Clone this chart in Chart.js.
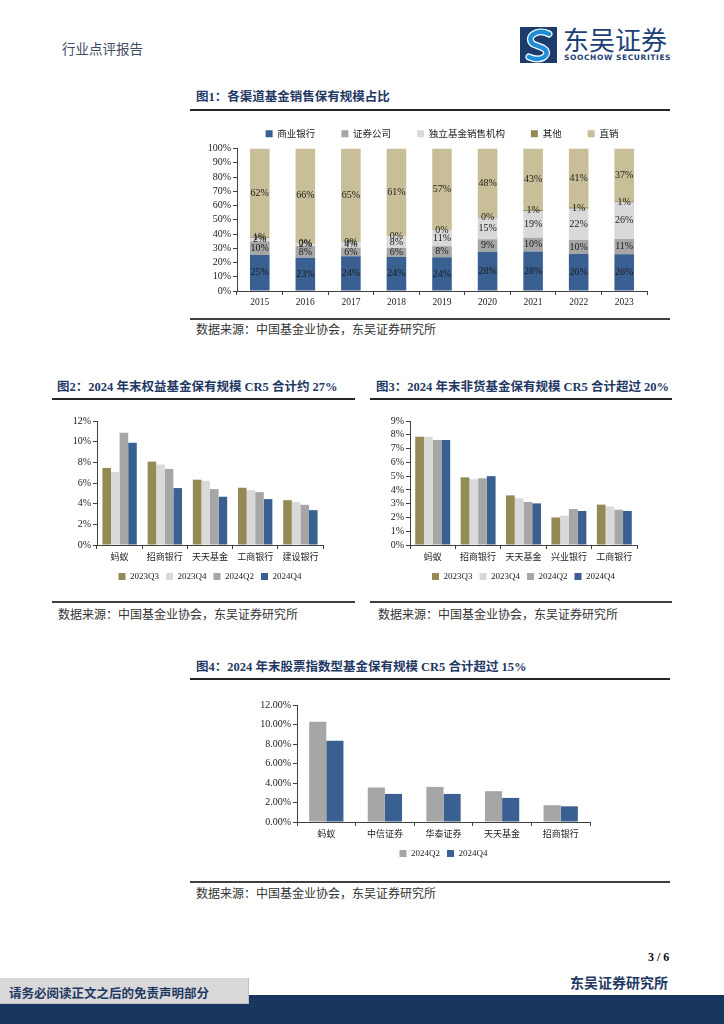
<!DOCTYPE html>
<html>
<head>
<meta charset="utf-8">
<script src="https://cdn.jsdelivr.net/npm/chart.js@4.4.1/dist/chart.umd.min.js"></script>
<style>
body{margin:0;width:724px;height:1024px;position:relative;overflow:hidden;background:#fff;font-family:"Liberation Serif","Noto Sans CJK SC",serif;}
.ttl{position:absolute;font:bold 12.5px "Liberation Serif","Noto Sans CJK SC";color:#1f3864;white-space:nowrap;line-height:14px;}
.rule{position:absolute;height:2px;background:#262626;}
.rule2{position:absolute;height:1px;background:#404040;}
.src{position:absolute;font:12px "Noto Sans CJK SC";color:#333;white-space:nowrap;line-height:14px;}
canvas{position:absolute;}
</style>
</head>
<body>

<!-- header -->
<div style="position:absolute;left:62px;top:38px;font:13.5px 'Noto Sans CJK SC';color:#3d4b63;">行业点评报告</div>
<svg style="position:absolute;left:520px;top:27px" width="40" height="36" viewBox="0 0 40 36">
  <rect x="0" y="0" width="37" height="36" fill="#1d3c6e"/>
  <path d="M29 7 C17 1, 5 10, 13 17 L23 21 C32 26, 23 36, 9 30" fill="none" stroke="#ffffff" stroke-width="7" stroke-linecap="round"/>
  <path d="M29 7 C17 1, 5 10, 13 17 L23 21 C32 26, 23 36, 9 30" fill="none" stroke="#1e8fd6" stroke-width="4.5" stroke-linecap="round"/>
</svg>
<div style="position:absolute;left:563px;top:24px;font:26px 'Noto Sans CJK SC';color:#1c3f75;line-height:30px;">东吴证券</div>
<div style="position:absolute;left:564px;top:53px;font:bold 7.5px 'DejaVu Sans';color:#1c3f75;letter-spacing:0.6px;">SOOCHOW SECURITIES</div>

<!-- 图1 -->
<div class="ttl" style="left:196px;top:90px;">图1：各渠道基金销售保有规模占比</div>
<div class="rule" style="left:190px;top:109px;width:480px;"></div>
<canvas id="c1" width="480" height="211" style="left:190px;top:103px;"></canvas>
<div class="rule2" style="left:190px;top:318px;width:480px;height:1.5px;"></div>
<div class="src" style="left:196px;top:322px;">数据来源：中国基金业协会，东吴证券研究所</div>

<!-- 图2 -->
<div class="ttl" style="left:57px;top:380px;">图2：2024 年末权益基金保有规模 CR5 合计约 27%</div>
<div class="rule" style="left:52px;top:398px;width:303px;"></div>
<canvas id="c2" width="303" height="190" style="left:52px;top:405px;"></canvas>
<div class="rule2" style="left:52px;top:601px;width:303px;height:1.5px;"></div>
<div class="src" style="left:58px;top:607px;">数据来源：中国基金业协会，东吴证券研究所</div>

<!-- 图3 -->
<div class="ttl" style="left:376px;top:380px;">图3：2024 年末非货基金保有规模 CR5 合计超过 20%</div>
<div class="rule" style="left:370px;top:398px;width:302px;"></div>
<canvas id="c3" width="302" height="190" style="left:370px;top:405px;"></canvas>
<div class="rule2" style="left:370px;top:601px;width:302px;height:1.5px;"></div>
<div class="src" style="left:378px;top:607px;">数据来源：中国基金业协会，东吴证券研究所</div>

<!-- 图4 -->
<div class="ttl" style="left:196px;top:660px;">图4：2024 年末股票指数型基金保有规模 CR5 合计超过 15%</div>
<div class="rule" style="left:190px;top:678px;width:480px;"></div>
<canvas id="c4" width="480" height="183" style="left:190px;top:689px;"></canvas>
<div class="rule2" style="left:190px;top:881px;width:480px;height:1.5px;"></div>
<div class="src" style="left:196px;top:886px;">数据来源：中国基金业协会，东吴证券研究所</div>

<!-- footer -->
<div style="position:absolute;left:648px;top:950px;font:bold 12px 'Liberation Serif';color:#111;">3 / 6</div>
<div style="position:absolute;left:570px;top:972px;font:bold 14px 'Noto Sans CJK SC';color:#1f3864;">东吴证券研究所</div>
<div style="position:absolute;left:0;top:995px;width:724px;height:29px;background:#17375e;"></div>
<div style="position:absolute;left:0;top:978px;width:248px;height:25px;background:#d9d9d9;border-right:1px solid #bfbfbf;border-bottom:1px solid #bfbfbf;"></div>
<div style="position:absolute;left:9px;top:983px;font:bold 12.5px 'Noto Sans CJK SC';color:#1f3864;">请务必阅读正文之后的免责声明部分</div>

<script>
// 图1 data (%)
const years = ['2015', '2016', '2017', '2018', '2019', '2020', '2021', '2022', '2023'];
const chBank = [25.2, 23.4, 24.3, 23.8, 23.6, 27.6, 27.8, 26.0, 25.8];
const chSec = [9.6, 8.1, 6.2, 6.3, 7.8, 8.8, 9.6, 9.8, 10.7];
const chIndep = [2.3, 1.9, 3.8, 8.3, 11.0, 14.8, 18.8, 22.0, 25.6];
const chOther = [0.6, 0.2, 0.3, 0.3, 0.3, 0.4, 0.8, 0.9, 0.8];
const chDirect = [62.3, 66.4, 65.4, 61.3, 57.3, 48.4, 43.0, 41.3, 37.1];

// 图2 data (%)
const eqCats = ['蚂蚁', '招商银行', '天天基金', '工商银行', '建设银行'];
const eq23Q3 = [7.46, 8.07, 6.32, 5.54, 4.34];
const eq23Q4 = [7.07, 7.78, 6.22, 5.32, 4.15];
const eq24Q2 = [10.86, 7.36, 5.41, 5.12, 3.89];
const eq24Q4 = [9.89, 5.51, 4.67, 4.44, 3.37];

// 图3 data (%)
const nmCats = ['蚂蚁', '招商银行', '天天基金', '兴业银行', '工商银行'];
const nm23Q3 = [7.86, 4.91, 3.60, 2.00, 2.93];
const nm23Q4 = [7.86, 4.77, 3.39, 2.13, 2.80];
const nm24Q2 = [7.62, 4.84, 3.12, 2.61, 2.56];
const nm24Q4 = [7.62, 5.00, 3.02, 2.47, 2.47];

// 图4 data (%)
const idxCats = ['蚂蚁', '中信证券', '华泰证券', '天天基金', '招商银行'];
const idx24Q2 = [10.29, 3.54, 3.60, 3.16, 1.72];
const idx24Q4 = [8.33, 2.88, 2.88, 2.47, 1.61];

const BLUE = '#3a6092', GRAY = '#a6a6a6', LIGHT = '#d9d9d9', OLIVE = '#948a56', TAN = '#c8bf98';
const AXIS = '#404040';

Chart.defaults.font.family = '"Liberation Serif", "Noto Sans CJK SC", serif';
Chart.defaults.color = '#1a1a1a';
Chart.defaults.animation = false;
Chart.defaults.events = [];

// segment labels for the stacked chart
const segLabels = {
    id: 'segLabels',
    afterDatasetsDraw(chart) {
        const ctx = chart.ctx;
        ctx.save();
        ctx.font = '10px "Liberation Serif"';
        ctx.fillStyle = '#1a1a1a';
        ctx.textAlign = 'center';
        ctx.textBaseline = 'middle';
        chart.data.datasets.forEach((ds, i) => {
            chart.getDatasetMeta(i).data.forEach((bar, j) => {
                const c = bar.getCenterPoint();
                ctx.fillText(Math.round(ds.data[j]) + '%', c.x, c.y);
            });
        });
        ctx.restore();
    }
};

function xAxis(font, stacked) {
    return {
        stacked: stacked,
        grid: { drawOnChartArea: false, color: AXIS, tickLength: 4 },
        border: { color: AXIS },
        ticks: { font: font, padding: 2, maxRotation: 0, autoSkip: false, color: '#1a1a1a' },
        afterFit: s => { s.height = 20; }
    };
}

function yAxis(max, step, fmt, font, w, stacked) {
    return {
        stacked: stacked,
        min: 0, max: max,
        grid: { drawOnChartArea: false, color: AXIS, tickLength: 4 },
        border: { color: AXIS },
        ticks: { stepSize: step, autoSkip: false, font: font, padding: 2, callback: fmt, color: '#1a1a1a' },
        afterFit: s => { s.width = w; }
    };
}

function legendOpts(pos, pad, font) {
    return {
        position: pos,
        fullSize: false,
        labels: { boxWidth: 7, boxHeight: 7, padding: pad, font: font, color: '#1a1a1a' }
    };
}

// 图1
new Chart(document.getElementById('c1'), {
    type: 'bar',
    data: {
        labels: years,
        datasets: [
            { label: '商业银行', data: chBank, backgroundColor: BLUE },
            { label: '证券公司', data: chSec, backgroundColor: GRAY },
            { label: '独立基金销售机构', data: chIndep, backgroundColor: LIGHT },
            { label: '其他', data: chOther, backgroundColor: OLIVE },
            { label: '直销', data: chDirect, backgroundColor: TAN }
        ].map(d => Object.assign(d, { barPercentage: 0.43, categoryPercentage: 1 }))
    },
    options: {
        responsive: false,
        layout: { padding: { top: 0, right: 23, bottom: 3, left: 0 } },
        plugins: {
            legend: legendOpts('top', 26, { size: 9.5, family: '"Noto Sans CJK SC"' }),
            tooltip: { enabled: false }
        },
        scales: {
            x: xAxis({ size: 9.5 }, true),
            y: yAxis(100, 10, v => v + '%', { size: 10 }, 47, true)
        }
    },
    plugins: [segLabels]
});

function groupChart(id, cats, sets, yMax, yStep, fmt, yw, pad, catPct) {
    new Chart(document.getElementById(id), {
        type: 'bar',
        data: {
            labels: cats,
            datasets: sets.map(s => ({
                label: s[0], data: s[1], backgroundColor: s[2],
                barPercentage: 1, categoryPercentage: catPct
            }))
        },
        options: {
            responsive: false,
            layout: { padding: pad },
            plugins: {
                legend: legendOpts('bottom', 7, { size: 9 }),
                tooltip: { enabled: false }
            },
            scales: {
                x: xAxis({ size: 9, family: '"Noto Sans CJK SC"' }, false),
                y: yAxis(yMax, yStep, fmt, { size: 10 }, yw, false)
            }
        }
    });
}

// 图2
groupChart('c2', eqCats, [
    ['2023Q3', eq23Q3, OLIVE], ['2023Q4', eq23Q4, LIGHT],
    ['2024Q2', eq24Q2, GRAY], ['2024Q4', eq24Q4, BLUE]
], 12, 2, v => v + '%', 45, { top: 16, right: 32, bottom: 4, left: 0 }, 0.76);

// 图3
groupChart('c3', nmCats, [
    ['2023Q3', nm23Q3, OLIVE], ['2023Q4', nm23Q4, LIGHT],
    ['2024Q2', nm24Q2, GRAY], ['2024Q4', nm24Q4, BLUE]
], 9, 1, v => v + '%', 40, { top: 16, right: 35, bottom: 4, left: 0 }, 0.77);

// 图4
groupChart('c4', idxCats, [
    ['2024Q2', idx24Q2, GRAY], ['2024Q4', idx24Q4, BLUE]
], 12, 2, v => v.toFixed(2) + '%', 107, { top: 16, right: 80, bottom: 4, left: 0 }, 0.585);
</script>
</body>
</html>
